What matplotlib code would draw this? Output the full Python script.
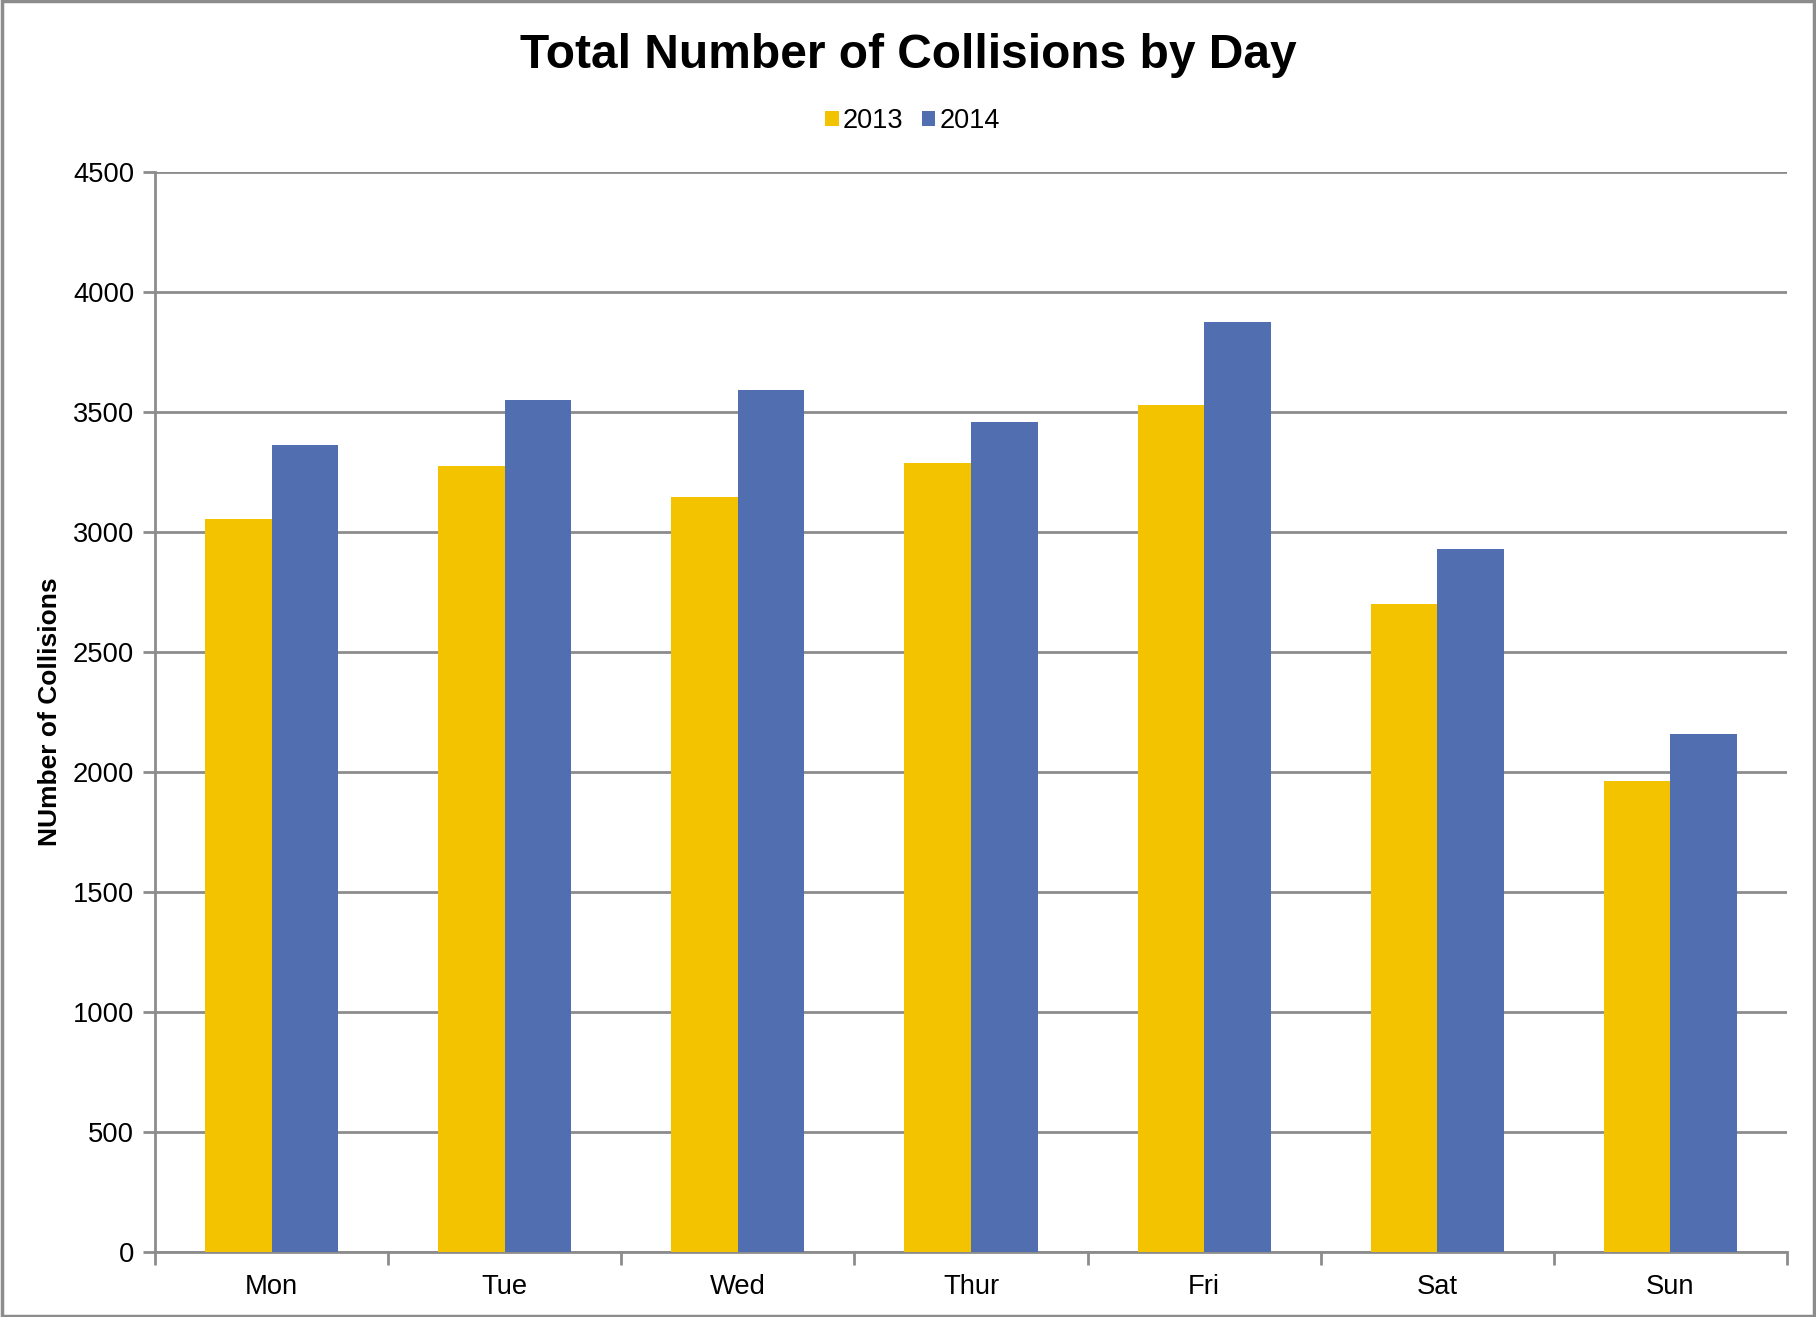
import matplotlib.pyplot as plt
import numpy as np
from matplotlib.patches import Rectangle

plt.rcParams['font.family'] = ['Liberation Sans', 'DejaVu Sans']

# values
days = ["Mon", "Tue", "Wed", "Thur", "Fri", "Sat", "Sun"]
collisions_2013 = [3053, 3276, 3147, 3286, 3530, 2698, 1963]
collisions_2014 = [3361, 3548, 3591, 3459, 3874, 2930, 2157]
years = ["2013", "2014"]
y_ticks = [0, 500, 1000, 1500, 2000, 2500, 3000, 3500, 4000, 4500]

yellow = "#F3C300"
blue = "#516FB0"
grid_gray = "#8C8C8C"

fig = plt.figure(figsize=(18.16, 13.17), dpi=100)
ax = fig.add_axes([0.0854, 0.0494, 0.8986, 0.82])

x = np.arange(len(days))
width = 1 / 3.5
ax.bar(x - width / 2, collisions_2013, width, color=yellow, label=years[0], zorder=3)
ax.bar(x + width / 2, collisions_2014, width, color=blue, label=years[1], zorder=3)

ax.set_xlim(-0.5, len(days) - 0.5)
ax.set_ylim(0, 4500)
ax.set_yticks(y_ticks)
ax.set_yticklabels([str(t) for t in y_ticks], fontsize=19.7)
ax.yaxis.grid(True, color=grid_gray, linewidth=2, zorder=0)

# category labels centred, ticks between categories
ax.set_xticks(x)
ax.set_xticklabels(days, fontsize=19.7)
ax.tick_params(axis="x", length=0, pad=16)
ax.set_xticks(np.arange(-0.5, len(days)), minor=True)
ax.tick_params(axis="x", which="minor", length=9, width=2, color=grid_gray)
ax.tick_params(axis="y", length=9, width=2, color=grid_gray, pad=6)

for side in ["top", "right"]:
    ax.spines[side].set_visible(False)
for side in ["left", "bottom"]:
    ax.spines[side].set_color(grid_gray)
    ax.spines[side].set_linewidth(2)

ax.set_ylabel("NUmber of Collisions", fontsize=19, fontweight="bold", labelpad=8)

fig.text(0.5, 0.958, "Total Number of Collisions by Day", ha="center", va="center",
         fontsize=34.5, fontweight="bold")

leg = fig.legend(loc="center", bbox_to_anchor=(0.5025, 0.908), ncol=2, frameon=False,
                 fontsize=19.5, handlelength=0.5, handleheight=0.5, handletextpad=0.15,
                 columnspacing=0.68)

# border round the whole chart
fig.patches.append(Rectangle((0.001, 0.001), 0.998, 0.998, transform=fig.transFigure,
                             fill=False, edgecolor="#8C8C8C", linewidth=2.5))

fig.savefig("out.png", dpi=100, facecolor="white")
